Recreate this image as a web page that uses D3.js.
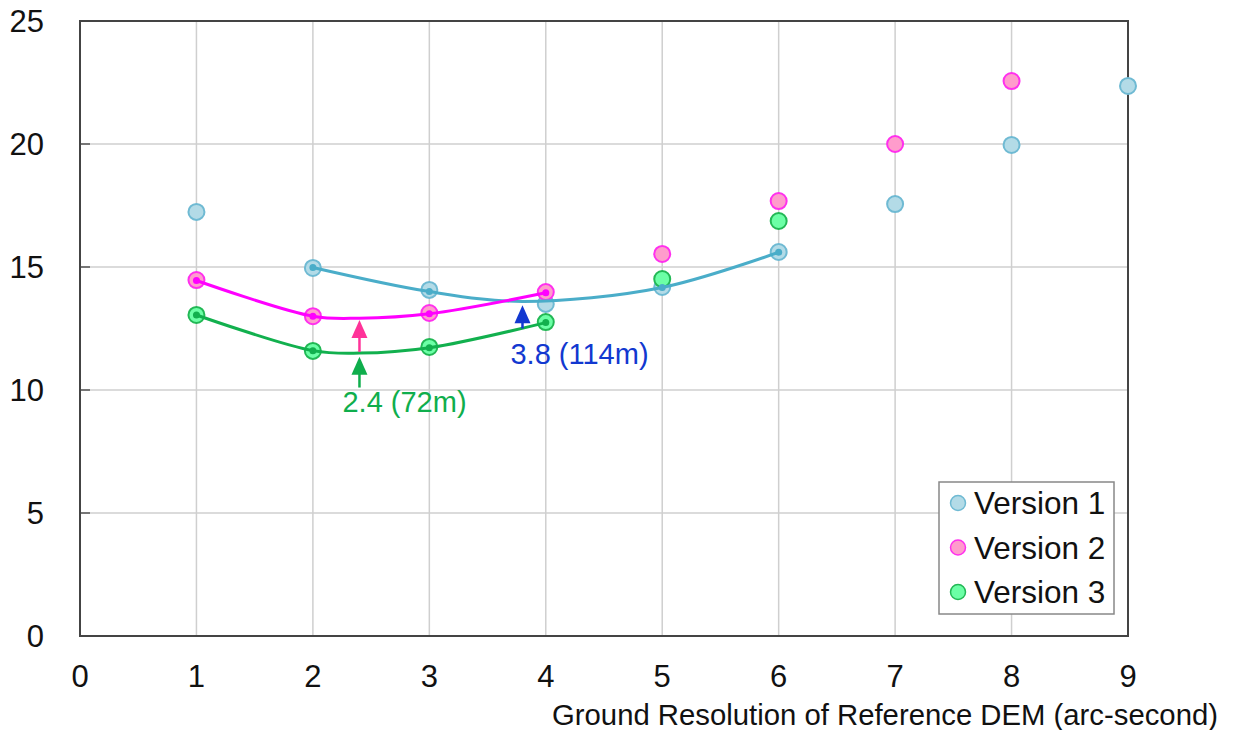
<!DOCTYPE html>
<html>
<head>
<meta charset="utf-8">
<script src="https://cdn.jsdelivr.net/npm/d3@7"></script>
<style>
  body { margin: 0; background: #fff; }
  text { font-family: "Liberation Sans", Arial, sans-serif; }
</style>
</head>
<body>
<div class="chart"></div>
<script>
// data
const xTicks = [0, 1, 2, 3, 4, 5, 6, 7, 8, 9];
const yTicks = [0, 5, 10, 15, 20, 25];

const v1X = [1, 2, 3, 4, 5, 6, 7, 8, 9];
const v1Y = [17.24, 14.96, 14.07, 13.5, 14.19, 15.61, 17.56, 19.96, 22.36];
const v2X = [1, 2, 3, 4, 5, 6, 7, 8];
const v2Y = [14.47, 13.0, 13.13, 13.98, 15.53, 17.68, 20.0, 22.56];
const v3X = [1, 2, 3, 4, 5, 6];
const v3Y = [13.05, 11.59, 11.75, 12.76, 14.51, 16.87];

// fitted curves
const fit1X = [2, 3, 3.8, 5, 6];
const fit1Y = [14.98, 14.0, 13.6, 14.17, 15.6];
const fit2X = [1, 2, 2.4, 3, 4];
const fit2Y = [14.45, 13.0, 12.92, 13.1, 13.95];
const fit3X = [1, 2, 2.4, 3, 4];
const fit3Y = [13.05, 11.6, 11.5, 11.72, 12.74];

const legendNames = ["Version 1", "Version 2", "Version 3"];

// annotation arrows: x, from, to
const arrowX = [2.4, 2.4, 3.8];
const arrowFrom = [11.55, 10.1, 12.5];
const arrowTo = [12.85, 11.35, 13.45];
const noteText = ["2.4 (72m)", "3.8 (114m)"];

const W = 1233, H = 730;
const margin = {top: 21, right: 105, bottom: 94, left: 80};
const width = W - margin.left - margin.right;
const height = H - margin.top - margin.bottom;

const svg = d3.select(".chart").append("svg")
  .attr("width", W).attr("height", H);
const g = svg.append("g")
  .attr("transform", "translate(" + margin.left + "," + margin.top + ")");

const x = d3.scaleLinear().domain([0, 9]).range([0, width]);
const y = d3.scaleLinear().domain([0, 25]).range([height, 0]);

// grid
g.selectAll(".vgrid").data(xTicks.slice(1, -1)).enter().append("line")
  .attr("x1", d => x(d)).attr("x2", d => x(d))
  .attr("y1", 0).attr("y2", height)
  .attr("stroke", "#cfcfcf").attr("stroke-width", 1.5);
g.selectAll(".hgrid").data(yTicks.slice(1, -1)).enter().append("line")
  .attr("x1", 0).attr("x2", width)
  .attr("y1", d => y(d)).attr("y2", d => y(d))
  .attr("stroke", "#cfcfcf").attr("stroke-width", 1.5);

// inward ticks on the left axis
g.selectAll(".ytick").data(yTicks.slice(1, -1)).enter().append("line")
  .attr("x1", 0).attr("x2", 10)
  .attr("y1", d => y(d)).attr("y2", d => y(d))
  .attr("stroke", "#555").attr("stroke-width", 1.5);

// frame
g.append("rect")
  .attr("x", 0).attr("y", 0).attr("width", width).attr("height", height)
  .attr("fill", "none").attr("stroke", "#444").attr("stroke-width", 2);

// tick labels
g.selectAll(".xl").data(xTicks).enter().append("text")
  .attr("x", d => x(d)).attr("y", height + 51)
  .attr("text-anchor", "middle").attr("font-size", 31).attr("fill", "#111")
  .text(d => d);
g.selectAll(".yl").data(yTicks).enter().append("text")
  .attr("x", -36).attr("y", d => y(d) + 11)
  .attr("text-anchor", "end").attr("font-size", 31).attr("fill", "#111")
  .text(d => d);

g.append("text")
  .attr("x", width + 90).attr("y", height + 89)
  .attr("text-anchor", "end").attr("font-size", 29.3).attr("fill", "#111")
  .text("Ground Resolution of Reference DEM (arc-second)");

const series = [
  {xs: v1X, ys: v1Y, fill: "#b3dbe7", stroke: "#6fbad3"},
  {xs: v2X, ys: v2Y, fill: "#ff9ccc", stroke: "#ff30ee"},
  {xs: v3X, ys: v3Y, fill: "#6cffa6", stroke: "#22b855"}
];
const fits = [
  {xs: fit1X, ys: fit1Y, color: "#4aadc9"},
  {xs: fit2X, ys: fit2Y, color: "#ff00ff"},
  {xs: fit3X, ys: fit3Y, color: "#12b04e"}
];

series.forEach(s => {
  g.selectAll(null).data(s.xs.map((d, i) => [d, s.ys[i]])).enter().append("circle")
    .attr("cx", d => x(d[0])).attr("cy", d => y(d[1])).attr("r", 8)
    .attr("fill", s.fill).attr("stroke", s.stroke).attr("stroke-width", 2);
});

const line = d3.line()
  .x(d => x(d[0])).y(d => y(d[1]))
  .curve(d3.curveCatmullRom);

fits.forEach(f => {
  const pts = f.xs.map((d, i) => [d, f.ys[i]]);
  g.append("path").datum(pts)
    .attr("d", line).attr("fill", "none")
    .attr("stroke", f.color).attr("stroke-width", 3);
  g.selectAll(null).data(pts.filter(p => Number.isInteger(p[0]))).enter().append("circle")
    .attr("cx", d => x(d[0])).attr("cy", d => y(d[1])).attr("r", 3.5)
    .attr("fill", f.color);
});

// arrows
const arrowColors = ["#ff3399", "#0fae4c", "#1238d0"];
arrowX.forEach((ax, i) => {
  const px = x(ax), y0 = y(arrowFrom[i]), y1 = y(arrowTo[i]);
  g.append("line")
    .attr("x1", px).attr("x2", px).attr("y1", y0).attr("y2", y1 + 12)
    .attr("stroke", arrowColors[i]).attr("stroke-width", 2.5);
  g.append("path")
    .attr("d", "M" + px + "," + y1 + "L" + (px - 8) + "," + (y1 + 18) + "L" + (px + 8) + "," + (y1 + 18) + "Z")
    .attr("fill", arrowColors[i]);
});

g.append("text")
  .attr("x", x(2.4) - 17).attr("y", y(arrowFrom[1]) + 24)
  .attr("font-size", 29).attr("fill", "#0fae4c")
  .text(noteText[0]);
g.append("text")
  .attr("x", x(3.8) - 12).attr("y", y(arrowFrom[2]) + 35)
  .attr("font-size", 29).attr("fill", "#1238d0")
  .text(noteText[1]);

// legend
const lg = svg.append("g").attr("transform", "translate(939,482)");
lg.append("rect").attr("width", 175).attr("height", 132)
  .attr("fill", "#fff").attr("stroke", "#888").attr("stroke-width", 1.5);
legendNames.forEach((n, i) => {
  lg.append("circle").attr("cx", 19).attr("cy", 21 + i * 44.5).attr("r", 7.5)
    .attr("fill", series[i].fill).attr("stroke", series[i].stroke).attr("stroke-width", 1.5);
  lg.append("text").attr("x", 35).attr("y", 32 + i * 44.5)
    .attr("font-size", 31.5).attr("fill", "#111").text(n);
});
</script>
</body>
</html>
